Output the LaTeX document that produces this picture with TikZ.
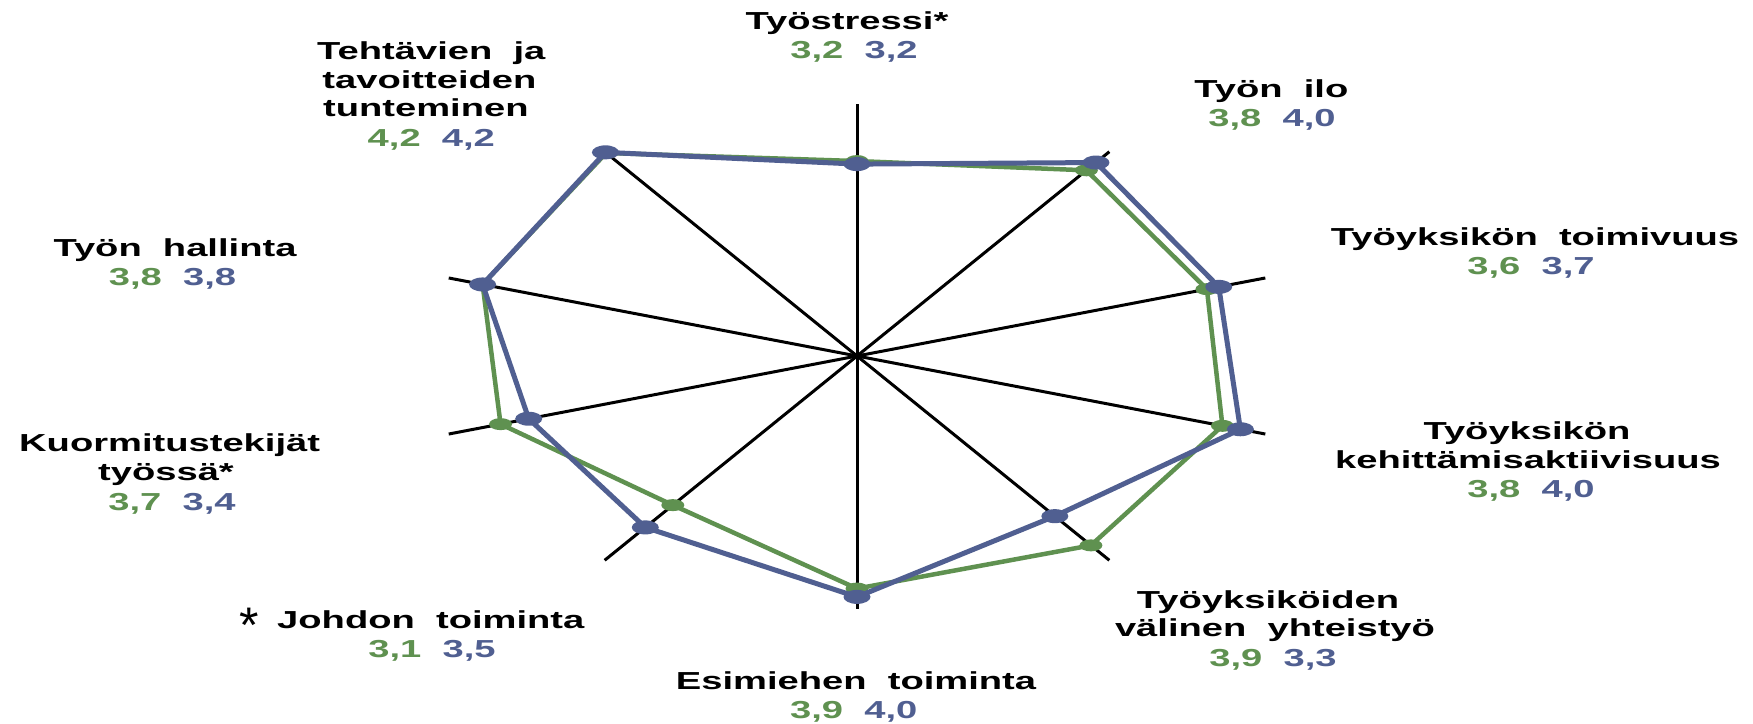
\documentclass[tikz,border=0pt]{standalone}
\usepackage{fontspec}
\newfontfamily\lab[FakeStretch=1.55]{Liberation Sans}
\newfontfamily\plainsans{Liberation Sans}
\usetikzlibrary{calc,shapes.geometric}
\definecolor{grn}{RGB}{95,145,80}
\definecolor{blu}{RGB}{80,95,145}
\begin{document}
\begin{tikzpicture}[x=1pt,y=-1pt,
  lbl/.style={inner sep=0pt, anchor=base, font=\lab\bfseries\fontsize{24.6}{29}\selectfont},
  axisline/.style={line width=3pt, black},
  gline/.style={grn, line width=4.5pt, line join=round},
  bline/.style={blu, line width=5pt, line join=round},
  gdot/.style={ellipse, fill=grn, minimum width=23pt, minimum height=12pt, inner sep=0pt},
  bdot/.style={ellipse, fill=blu, minimum width=27pt, minimum height=14pt, inner sep=0pt}]
\useasboundingbox (0,0) rectangle (1753,723);
\fill[white] (0,0) rectangle (1753,723);
\coordinate (C) at (857,356);
\foreach \k in {0,...,9}
  \coordinate (A\k) at ($(C)+({429.3*sin(36*\k)},{-252.5*cos(36*\k)})$);
\foreach \k in {0,...,9}
  \draw[axisline] (C) -- (A\k);
% green series
\foreach \k/\f in {0/0.772,1/0.909,2/0.857,3/0.895,4/0.927,5/0.921,6/0.730,7/0.873,8/0.917,9/0.994}
  \coordinate (G\k) at ($(C)!\f!(A\k)$);
\draw[gline] (G0) -- (G1) -- (G2) -- (G3) -- (G4) -- (G5) -- (G6) -- (G7) -- (G8) -- (G9) -- cycle;
\foreach \k in {0,...,9}
  \node[gdot] (gm\k) at (G\k) {};
% blue series
\foreach \k/\f in {0/0.760,1/0.947,2/0.886,3/0.939,4/0.784,5/0.954,6/0.839,7/0.804,8/0.917,9/0.997}
  \coordinate (B\k) at ($(C)!\f!(A\k)$);
\draw[bline] (B0) -- (B1) -- (B2) -- (B3) -- (B4) -- (B5) -- (B6) -- (B7) -- (B8) -- (B9) -- cycle;
\foreach \k in {0,...,9}
  \node[bdot] (bm\k) at (B\k) {};
% labels
\node[lbl] (l0a) at (847,29.3) {Työstressi*};
\node[lbl] (l0b) at (854,58.3) {\textcolor{grn}{3,2}\ \ \textcolor{blu}{3,2}};
\node[lbl] (l1a) at (1271.4,97.3) {Työn\ \ ilo};
\node[lbl] (l1b) at (1272,126.7) {\textcolor{grn}{3,8}\ \ \textcolor{blu}{4,0}};
\node[lbl] (l2a) at (1535,245) {Työyksikön\ \ toimivuus};
\node[lbl] (l2b) at (1531,274) {\textcolor{grn}{3,6}\ \ \textcolor{blu}{3,7}};
\node[lbl] (l3a) at (1527,439.3) {Työyksikön};
\node[lbl] (l3b) at (1528,468.3) {kehittämisaktiivisuus};
\node[lbl] (l3c) at (1531,497.3) {\textcolor{grn}{3,8}\ \ \textcolor{blu}{4,0}};
\node[lbl] (l4a) at (1268,608.3) {Työyksiköiden};
\node[lbl] (l4b) at (1275,636.7) {välinen\ \ yhteistyö};
\node[lbl] (l4c) at (1273,666.7) {\textcolor{grn}{3,9}\ \ \textcolor{blu}{3,3}};
\node[lbl] (l5a) at (856,689.3) {Esimiehen\ \ toiminta};
\node[lbl] (l5b) at (853.7,718.3) {\textcolor{grn}{3,9}\ \ \textcolor{blu}{4,0}};
\node[inner sep=0pt, anchor=base, font=\plainsans\fontsize{50}{50}\selectfont] (star) at (249.5,642) {*};
\node[lbl] (l6a) at (430.8,628.3) {Johdon\ \ toiminta};
\node[lbl] (l6b) at (432,657.7) {\textcolor{grn}{3,1}\ \ \textcolor{blu}{3,5}};
\node[lbl] (l7a) at (169.6,451.7) {Kuormitustekijät};
\node[lbl] (l7b) at (166,480) {työssä*};
\node[lbl] (l7c) at (172,510.7) {\textcolor{grn}{3,7}\ \ \textcolor{blu}{3,4}};
\node[lbl] (l8a) at (175,256.7) {Työn\ \ hallinta};
\node[lbl] (l8b) at (172.5,285) {\textcolor{grn}{3,8}\ \ \textcolor{blu}{3,8}};
\node[lbl] (l9a) at (431.3,59.3) {Tehtävien\ \ ja};
\node[lbl] (l9b) at (429.4,88.3) {tavoitteiden};
\node[lbl] (l9c) at (425.8,116.7) {tunteminen};
\node[lbl] (l9d) at (431.3,146.7) {\textcolor{grn}{4,2}\ \ \textcolor{blu}{4,2}};
\end{tikzpicture}
\end{document}
